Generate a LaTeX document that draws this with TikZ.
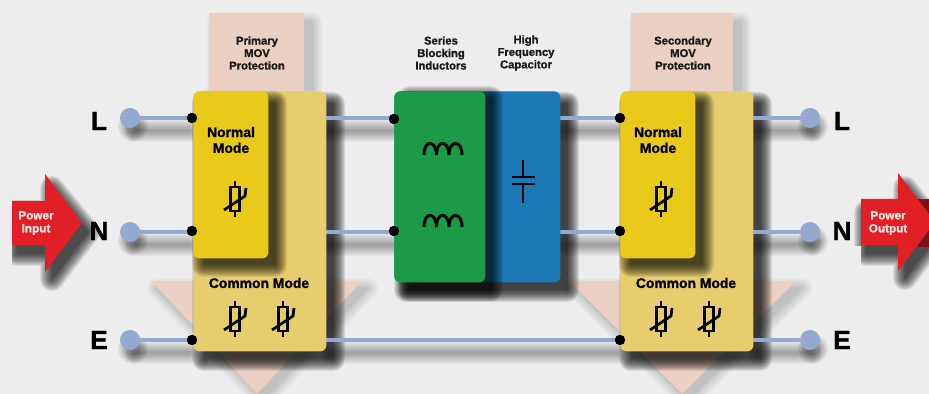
\documentclass[tikz,border=0pt]{standalone}
\usepackage{fontspec}
\setmainfont[BoldFeatures={FakeBold=1.3}]{Liberation Sans}
\usetikzlibrary{positioning,calc}
\definecolor{bggrey}{HTML}{EDEDED}
\definecolor{pinkish}{HTML}{EBCFC3}
\definecolor{sandy}{HTML}{E8CD6E}
\definecolor{brightyel}{HTML}{E9CA1B}
\definecolor{wirecol}{HTML}{93A9CF}
\definecolor{greenbox}{HTML}{1B9A48}
\definecolor{bluebox}{HTML}{1B7AB6}
\definecolor{redarrow}{HTML}{E01F26}
\tikzstyle{box}=[rectangle,rounded corners=1.2mm,inner sep=0pt,anchor=north west]
\tikzstyle{term}=[circle,fill=wirecol,inner sep=0pt,minimum size=.4cm]
\tikzstyle{dot}=[circle,fill=black,inner sep=0pt,minimum size=.2cm]
\tikzstyle{wire}=[draw=wirecol,line width=.08cm]
\tikzstyle{letter}=[font=\fontsize{15}{15}\selectfont\bfseries,text=black]
\tikzstyle{small}=[font=\fontsize{6.4}{7.1}\selectfont\bfseries,align=center,text=black!90]
\tikzstyle{modetxt}=[font=\fontsize{7.9}{9}\selectfont\bfseries,align=center]
\tikzstyle{arrowtxt}=[font=\fontsize{6.7}{7.4}\selectfont\bfseries,align=center,text=white!90!red]
% blurred shadow under a path: #1 half spread in px, #2 opacity per level
\newcommand{\blur}[3][20]{%
  \foreach \w in {#1,...,0} {
    \begin{scope}[transparency group,opacity=#2]
      \path (0,0) rectangle (929,394);
      \fill[black,draw=black,line width=\w*.04cm,line join=round] #3;
    \end{scope}
  }
}
\tikzset{
  varistor/.pic={
    \draw[line width=.045cm] (0,-18) -- (0,-12) (0,12) -- (0,18);
    \draw[line width=.045cm] (-4.5,-12) rectangle (4.5,12);
    \draw[line width=.055cm] (-11,11) -- (10,-3) -- (11,-11);
  },
  inductor/.pic={
    \draw[line width=.06cm] (-19,6.5) .. controls (-19,-9) and (-7,-9) .. (-6.5,6.5)
      (-6.5,6.5) .. controls (-7,-9) and (6,-9) .. (6,6.5)
      (6,6.5) .. controls (6,-9) and (19,-9) .. (19,6.5);
  }
}

\begin{document}
\begin{tikzpicture}[x=.02cm,y=-.02cm]
  \useasboundingbox (0,0) rectangle (929,394);
  \fill[bggrey] (0,0) rectangle (929,394);

  % pink bands and their shadows
  \blur[10]{.016}{(216,22) rectangle (312,90)}
  \blur[10]{.016}{(638,22) rectangle (741,90)}
  \blur[10]{.016}{(157,288) -- (368,288) -- (263,400) -- cycle}
  \blur[10]{.016}{(575,288) -- (802,288) -- (688,400) -- cycle}
  \fill[pinkish] (209,13) rectangle (304,100);
  \fill[pinkish] (631,13) rectangle (733,100);
  \fill[pinkish] (151,281) -- (362,281) -- (257,394) -- cycle;
  \fill[pinkish] (569,281) -- (796,281) -- (682,394) -- cycle;

  % shadows of wires
  \foreach \y in {118,232,340} {
    \blur[10]{.03}{(135,\y+12) -- (190,\y+12) -- (190,\y+14) -- (135,\y+14) -- cycle}
    \blur[10]{.03}{(757,\y+12) -- (812,\y+12) -- (812,\y+14) -- (757,\y+14) -- cycle}
  }
  \foreach \y in {118,232} {
    \blur[10]{.03}{(330,\y+12) -- (392,\y+12) -- (392,\y+14) -- (330,\y+14) -- cycle}
    \blur[10]{.03}{(565,\y+12) -- (618,\y+12) -- (618,\y+14) -- (565,\y+14) -- cycle}
  }
  \blur[10]{.03}{(330,352) -- (618,352) -- (618,354) -- (330,354) -- cycle}
  \foreach \x/\y in {130/118,130/232,130/340,810/118,810/232,810/340} {
    \blur[9]{.04}{(\x+3,\y+9) circle (6)}
  }

  % shadows of boxes
  \blur[12]{.09}{(204,104) rectangle (333,359)}
  \blur[12]{.09}{(631,104) rectangle (760,359)}
  \blur[12]{.09}{(406,104) rectangle (567,290)}

  % power arrows
  \blur[12]{.08}{(17,212) -- (52,212) -- (52,188) -- (88,232) -- (52,279) -- (52,254) -- (17,254) -- cycle}
  \blur[12]{.08}{(866,212) -- (905,212) -- (905,188) -- (940,232) -- (905,278) -- (905,254) -- (866,254) -- cycle}
  \fill[bggrey] (0,170) rectangle (12,295);
  \fill[bggrey] (845,246) rectangle (861,295);
  \fill[redarrow] (12,201) -- (45,201) -- (45,174) -- (82,223) -- (45,272) -- (45,245) -- (12,245) -- cycle;
  \fill[redarrow!55!black] (918,199) rectangle (929,247);
  \fill[redarrow] (861,199) -- (898,199) -- (898,173) -- (935,222) -- (898,271) -- (898,245) -- (861,245) -- cycle;
  \node[arrowtxt] (pin) at (36,223) {Power\\Input};
  \node[arrowtxt] (pout) at (888,223) {Power\\Output};

  % terminals
  \node[term] (l1) at (130,118) {};
  \node[term] (n1) at (130,232) {};
  \node[term] (e1) at (130,340) {};
  \node[term] (l2) at (810,118) {};
  \node[term] (n2) at (810,232) {};
  \node[term] (e2) at (810,340) {};
  \node[letter] (ll1) at (99,121) {L};
  \node[letter] (nl1) at (99,231) {N};
  \node[letter] (el1) at (99,340) {E};
  \node[letter] (ll2) at (842,121) {L};
  \node[letter] (nl2) at (842,231) {N};
  \node[letter] (el2) at (842,340) {E};

  % connection points
  \node[dot] (a1) at (192,118) {};
  \node[dot] (a2) at (192,231) {};
  \node[dot] (a3) at (192,340) {};
  \node[dot] (b1) at (394,119) {};
  \node[dot] (b2) at (394,231) {};
  \node[dot] (c1) at (620,118) {};
  \node[dot] (c2) at (620,231) {};
  \node[dot] (c3) at (620,340) {};

  \draw[wire] (l1) -- (a1);
  \draw[wire] (n1) -- (n1 -| a2);
  \draw[wire] (e1) -- (a3);
  \draw[wire] (a1) -- (b1 |- a1);
  \draw[wire] (n1 -| a2) -- (n1 -| b2);
  \draw[wire] (a3) -- (c3);
  \draw[wire] (b1 |- c1) -- (c1);
  \draw[wire] (n1 -| b2) -- (n1 -| c2);
  \draw[wire] (c1) -- (l2);
  \draw[wire] (n1 -| c2) -- (n2);
  \draw[wire] (c3) -- (e2);

  % primary block
  \node[box,fill=sandy,minimum width=2.66cm,minimum height=5.2cm] (primary) at (193,91) {};
  \blur[12]{.08}{(204,103) rectangle (275,265)}
  \node[box,fill=brightyel,minimum width=1.5cm,minimum height=3.34cm] (pnormal) at (193,91) {};
  \node[modetxt] (pnt) at (231,140) {Normal\\Mode};
  \node[modetxt] (pct) at (259,283) {Common Mode};
  \pic at (235,199) {varistor};
  \pic at (235,319) {varistor};
  \pic at (283,319) {varistor};

  % filter block
  \node[box,fill=bluebox,minimum width=3.32cm,minimum height=3.82cm] (capbox) at (394,91) {};
  \blur[12]{.08}{(410,98) rectangle (491,290)}
  \node[box,fill=greenbox,minimum width=1.82cm,minimum height=3.82cm] (indbox) at (394,91) {};
  \pic at (443,148.5) {inductor};
  \pic at (443,220.5) {inductor};
  \draw[line width=.05cm] (523,160) -- (523,177) (512,177) -- (535,177)
    (512,184) -- (535,184) (523,184) -- (523,203);

  % secondary block
  \node[box,fill=sandy,minimum width=2.66cm,minimum height=5.2cm] (secondary) at (620,91) {};
  \blur[12]{.08}{(631,103) rectangle (702,265)}
  \node[box,fill=brightyel,minimum width=1.5cm,minimum height=3.34cm] (snormal) at (620,91) {};
  \node[modetxt] (snt) at (658,140) {Normal\\Mode};
  \node[modetxt] (sct) at (686,283) {Common Mode};
  \pic at (661,199) {varistor};
  \pic at (661,319) {varistor};
  \pic at (709,319) {varistor};

  % redraw points above the boxes
  \foreach \p in {a1,a2,a3,b1,b2,c1,c2,c3} {
    \fill (\p) circle (5.2);
  }

  % captions
  \node[small] (cap1) at (257,53) {Primary\\MOV\\Protection};
  \node[small] (cap2) at (441,53) {Series\\Blocking\\Inductors};
  \node[small] (cap3) at (526,53) {High\\Frequency\\Capacitor};
  \node[small] (cap4) at (683,53) {Secondary\\MOV\\Protection};
\end{tikzpicture}
\end{document}
